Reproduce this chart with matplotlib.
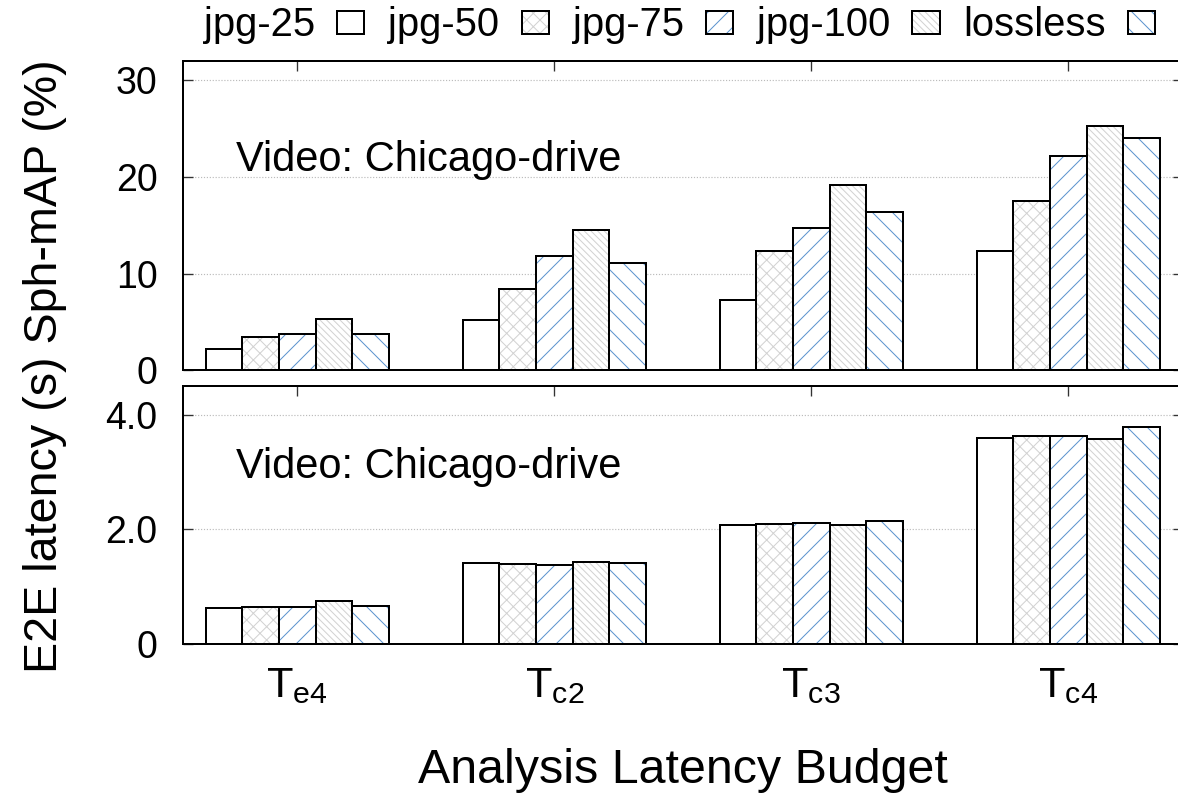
import numpy as np
import matplotlib
matplotlib.use('Agg')
import matplotlib.pyplot as plt
from matplotlib.legend_handler import HandlerTuple

plt.rcParams['font.family'] = ['Liberation Sans', 'DejaVu Sans']
plt.rcParams['hatch.linewidth'] = 0.6

# categories and series
budgets = [r'$\mathregular{T_{e4}}$', r'$\mathregular{T_{c2}}$',
           r'$\mathregular{T_{c3}}$', r'$\mathregular{T_{c4}}$']
series = ['jpg-25', 'jpg-50', 'jpg-75', 'jpg-100', 'lossless']

# Sph-mAP (%)
map_jpg25 = [2.2, 5.2, 7.3, 12.4]
map_jpg50 = [3.5, 8.4, 12.4, 17.5]
map_jpg75 = [3.75, 11.8, 14.7, 22.2]
map_jpg100 = [5.35, 14.5, 19.2, 25.3]
map_lossless = [3.8, 11.1, 16.4, 24.0]

# E2E latency (s)
lat_jpg25 = [0.63, 1.41, 2.07, 3.60]
lat_jpg50 = [0.64, 1.39, 2.09, 3.63]
lat_jpg75 = [0.65, 1.38, 2.11, 3.63]
lat_jpg100 = [0.75, 1.43, 2.08, 3.57]
lat_lossless = [0.67, 1.41, 2.14, 3.78]

map_vals = [map_jpg25, map_jpg50, map_jpg75, map_jpg100, map_lossless]
lat_vals = [lat_jpg25, lat_jpg50, lat_jpg75, lat_jpg100, lat_lossless]

# style per series: (hatch, hatch colour)
blue = '#5b93cf'
gray = '#d2d2d2'
styles = [('', 'white'), ('xxx', gray), ('//', blue), ('\\' * 6, gray), ('\\\\', blue)]

dpi = 120
fig = plt.figure(figsize=(1178 / dpi, 794 / dpi), dpi=dpi)
ax1 = fig.add_axes([0.1551, 0.5334, 0.849, 0.3898])
ax2 = fig.add_axes([0.1551, 0.1889, 0.849, 0.3249])

x = np.arange(len(budgets))
w = 0.1425
handles = []
for ax, vals in [(ax1, map_vals), (ax2, lat_vals)]:
    for j, v in enumerate(vals):
        hatch, hc = styles[j]
        pos = x + (j - 2) * w
        b1 = ax.bar(pos, v, w, color='white', edgecolor=hc, hatch=hatch, linewidth=0)
        b2 = ax.bar(pos, v, w, fill=False, edgecolor='black', linewidth=1.2)
        if ax is ax1:
            handles.append((b1, b2))

for ax in (ax1, ax2):
    ax.set_xlim(-0.446, 3.446)
    ax.set_xticks(x)
    ax.set_axisbelow(True)
    ax.grid(axis='y', linestyle=(0, (1, 1.5)), color='#bbbbbb', linewidth=0.7)
    ax.tick_params(axis='y', direction='in', length=6, width=0.8, color='#333333',
                   left=True, right=True, labelsize=22.5, pad=15)
    ax.tick_params(axis='x', direction='in', length=6, width=0.8, color='#333333',
                   top=True, bottom=True)
    for s in ax.spines.values():
        s.set_linewidth(1.2)
    ax.text(0.053, 0.645, 'Video: Chicago-drive', transform=ax.transAxes,
            fontsize=25, va='baseline', ha='left')

ax1.set_ylim(0, 32)
ax1.set_yticks([0, 10, 20, 30])
ax1.set_xticklabels([])

ax2.set_ylim(0, 4.5)
ax2.set_yticks([0, 2, 4])
ax2.set_yticklabels(['0', '2.0', '4.0'])
ax2.set_xticklabels(budgets, fontsize=26)
ax2.tick_params(axis='x', pad=13)

fig.text(0.038, 0.539, 'E2E latency (s) Sph-mAP (%)', rotation=90,
         ha='center', va='center', fontsize=28)
fig.text(0.580, 0.0135, 'Analysis Latency Budget', ha='center', va='baseline',
         fontsize=29)

fig.legend(handles, series, loc='center', bbox_to_anchor=(0.577, 0.968),
           ncol=5, frameon=False, markerfirst=False, fontsize=24,
           handlelength=0.68, handleheight=0.5, handletextpad=0.55,
           columnspacing=0.6, borderpad=0, borderaxespad=0,
           handler_map={tuple: HandlerTuple(ndivide=1)})

fig.savefig('out.png', dpi=dpi)
